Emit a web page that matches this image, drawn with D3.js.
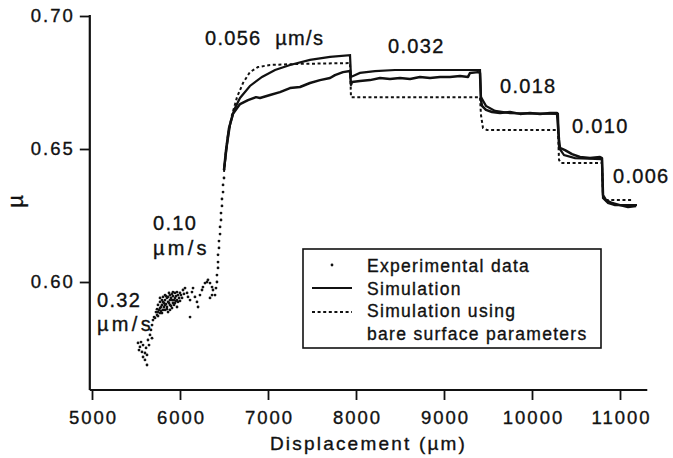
<!DOCTYPE html>
<html>
<head>
<meta charset="utf-8">
<script src="https://cdn.jsdelivr.net/npm/d3@7"></script>
<style>
	body { margin: 0; background: #fff; }
	svg { display: block; }
	text { font-family: 'Liberation Sans', Arial, Helvetica, sans-serif; fill: #111; stroke: #111; stroke-width: 0.35px; }
</style>
</head>
<body>
<svg id="chart"></svg>
<script>
'use strict'

// axis ticks
const X_TICKS = [5000, 6000, 7000, 8000, 9000, 10000, 11000];
const Y_TICKS = [0.60, 0.65, 0.70];
const X_LIMITS = [4975, 11310];
const Y_LIMITS = [0.5594, 0.70];

// simulation (fitted parameters)
const simX = [6500, 6534, 6568, 6614, 6682, 6795, 6932, 7080, 7250, 7477, 7705, 7932,
	7943, 8045, 8216, 8443, 9409,
	9420, 9477, 9580, 9750, 10295,
	10307, 10364, 10489, 10795,
	10807, 10864, 10943, 11193];
const simMu = [0.6421, 0.6515, 0.6590, 0.6647, 0.6692, 0.6737, 0.6771, 0.6797, 0.6816, 0.6835, 0.6846, 0.6853,
	0.6771, 0.6786, 0.6793, 0.6797, 0.6797,
	0.6695, 0.6662, 0.6643, 0.6635, 0.6632,
	0.6504, 0.6477, 0.6466, 0.6462,
	0.6316, 0.6297, 0.6289, 0.6289];

// simulation using bare surface parameters
const bareX = [6500, 6523, 6545, 6591, 6648, 6716, 6795, 6886, 7023, 7364, 7932,
	7943, 9409,
	9420, 9443, 9489, 10295,
	10307, 10330, 10795,
	10807, 10841, 11136];
const bareMu = [0.6414, 0.6496, 0.6553, 0.6628, 0.6695, 0.6748, 0.6789, 0.6808, 0.6816, 0.6820, 0.6823,
	0.6695, 0.6695,
	0.6628, 0.6579, 0.6571, 0.6571,
	0.6459, 0.6447, 0.6447,
	0.6320, 0.6308, 0.6308];

// experimental data, dense part (reads as a line)
const expLineX = [6500, 6523, 6557, 6602, 6682, 6773, 6864, 6909, 7023, 7136, 7250, 7364, 7477, 7591, 7705, 7761, 7852, 7932,
	7943, 7955, 8045, 8159, 8273, 8386, 8500, 8614, 8727, 8841, 8955, 9068, 9182, 9273, 9295, 9386, 9409,
	9420, 9432, 9477, 9545, 9636, 9750, 9864, 9977, 10091, 10205, 10284,
	10307, 10318, 10375, 10455, 10545, 10659, 10773, 10795,
	10807, 10841, 10909, 11000, 11091, 11182];
const expLineMu = [0.6421, 0.6496, 0.6579, 0.6632, 0.6669, 0.6684, 0.6695, 0.6692, 0.6703, 0.6714, 0.6729, 0.6733, 0.6748, 0.6759, 0.6767, 0.6778, 0.6789, 0.6793,
	0.6741, 0.6752, 0.6756, 0.6759, 0.6767, 0.6763, 0.6767, 0.6763, 0.6771, 0.6767, 0.6771, 0.6771, 0.6774, 0.6771, 0.6786, 0.6789, 0.6786,
	0.6684, 0.6662, 0.6647, 0.6639, 0.6635, 0.6639, 0.6632, 0.6635, 0.6632, 0.6635, 0.6635,
	0.6534, 0.6504, 0.6496, 0.6481, 0.6470, 0.6466, 0.6470, 0.6466,
	0.6327, 0.6308, 0.6297, 0.6289, 0.6282, 0.6286];

// experimental data, sparse part (single points)
const expDotX = [
	5523, 5557, 5580, 5534, 5568, 5602, 5580, 5625, 5602, 5625, 5636, 5659, 5670, 5682, 5693, 5545, 5614, 5648, 5682, 5705,
	5716, 5739, 5750, 5773, 5795, 5807, 5830, 5852, 5864, 5886, 5909, 5920, 5943, 5966, 5977,
	5807, 5852, 5886, 5920, 5795, 5864, 5909, 5966, 5830, 5773, 6000, 6023, 6034, 6057,
	5750, 5773, 5830, 5864, 5886, 5943, 5977, 5830, 5773, 5943, 5807, 5886, 5739, 5909,
	5727, 5761, 5784, 5818, 5841, 5875, 5898, 5932, 5955, 5989, 6011, 5841, 5875, 5920, 5966,
	5795, 5818, 5852, 5784, 5750, 5898, 5932, 5955, 6000, 6045,
	6080, 6091, 6114, 6136, 6148, 6170, 6193, 6205, 6114, 6227, 6250, 6261, 6284, 6307, 6318, 6341, 6364, 6375, 6364, 6341,
	6398, 6409, 6420, 6420, 6432, 6432, 6432, 6443, 6443, 6455, 6455, 6466, 6466, 6477, 6477, 6489, 6489, 6500];
const expDotMu = [
	0.5771, 0.5774, 0.5763, 0.5744, 0.5737, 0.5733, 0.5718, 0.5726, 0.5707, 0.5688, 0.5782, 0.5801, 0.5820, 0.5838, 0.5857, 0.5756, 0.5752, 0.5763, 0.5789, 0.5868,
	0.5865, 0.5876, 0.5887, 0.5902, 0.5914, 0.5925, 0.5932, 0.5940, 0.5944, 0.5951, 0.5955, 0.5947, 0.5940, 0.5932, 0.5925,
	0.5895, 0.5906, 0.5914, 0.5921, 0.5883, 0.5887, 0.5902, 0.5906, 0.5951, 0.5940, 0.5959, 0.5940, 0.5970, 0.5977,
	0.5914, 0.5925, 0.5914, 0.5925, 0.5932, 0.5959, 0.5951, 0.5895, 0.5883, 0.5921, 0.5944, 0.5895, 0.5898, 0.5932,
	0.5887, 0.5895, 0.5906, 0.5906, 0.5917, 0.5921, 0.5940, 0.5932, 0.5947, 0.5940, 0.5951, 0.5947, 0.5959, 0.5962, 0.5962,
	0.5932, 0.5921, 0.5898, 0.5891, 0.5872, 0.5910, 0.5914, 0.5929, 0.5929, 0.5955,
	0.5959, 0.5944, 0.5932, 0.5962, 0.5977, 0.5944, 0.5925, 0.5906, 0.5868, 0.5951, 0.5970, 0.5981, 0.5996, 0.6000, 0.6008, 0.5996, 0.5981, 0.5970, 0.5951, 0.5940,
	0.5951, 0.5977, 0.6000, 0.6026, 0.6053, 0.6075, 0.6102, 0.6128, 0.6154, 0.6180, 0.6207, 0.6233, 0.6259, 0.6286, 0.6312, 0.6338, 0.6365, 0.6391];

// sliding rate labels, anchored in data units (left edge, baseline)
const rateText = ['0.056  \u00b5m/s', '0.032', '0.018', '0.010', '0.006', '0.10', '\u00b5m/s', '0.32', '\u00b5m/s'];
const rateX = [6284, 8364, 9636, 10455, 10920, 5693, 5693, 5057, 5057];
const rateMu = [0.6891, 0.6861, 0.6711, 0.6560, 0.6372, 0.6196, 0.6102, 0.5906, 0.5816];

const LEGEND_LABELS = ['Experimental data', 'Simulation', 'Simulation using', 'bare surface parameters'];

var width = 673;
var height = 458;

var svg = d3.select('#chart')
	.attr('width', width)
	.attr('height', height);

var x = d3.scaleLinear()
	.domain([5000, 11000])
	.range([92, 620]);

var y = d3.scaleLinear()
	.domain([0.60, 0.70])
	.range([282, 16]);

var axisY0 = y(Y_LIMITS[0]);
var axisX0 = x(X_LIMITS[0]);

// x axis
var gx = svg.append('g')
	.attr('transform', 'translate(0,' + axisY0 + ')')
	.call(d3.axisBottom(x).tickValues(X_TICKS).tickSize(10).tickPadding(11).tickFormat(d3.format('d')));
gx.select('.domain').remove();
gx.selectAll('.tick line').attr('stroke', '#111').attr('stroke-width', 1.8);
gx.selectAll('.tick text')
	.attr('font-size', 18.5)
	.attr('letter-spacing', 2)
	.attr('dx', 1)
	.attr('fill', '#111');

svg.append('line')
	.attr('x1', x(X_LIMITS[0])).attr('x2', x(X_LIMITS[1]))
	.attr('y1', axisY0).attr('y2', axisY0)
	.attr('stroke', '#111').attr('stroke-width', 2);

// y axis
var gy = svg.append('g')
	.attr('transform', 'translate(' + axisX0 + ',0)')
	.call(d3.axisLeft(y).tickValues(Y_TICKS).tickSize(10).tickPadding(5).tickFormat(d3.format('.2f')));
gy.select('.domain').remove();
gy.selectAll('.tick line').attr('stroke', '#111').attr('stroke-width', 1.8);
gy.selectAll('.tick text')
	.attr('font-size', 18.5)
	.attr('letter-spacing', 2)
	.attr('fill', '#111');

svg.append('line')
	.attr('x1', axisX0).attr('x2', axisX0)
	.attr('y1', axisY0).attr('y2', y(Y_LIMITS[1]) - 1)
	.attr('stroke', '#111').attr('stroke-width', 2.2);

// axis titles
svg.append('text')
	.attr('x', x((X_LIMITS[0] + X_LIMITS[1]) / 2))
	.attr('y', axisY0 + 60)
	.attr('text-anchor', 'middle')
	.attr('font-size', 19)
	.attr('letter-spacing', 2.2)
	.text('Displacement (\u00b5m)');

svg.append('text')
	.attr('transform', 'translate(23,' + y(0.6303) + ') rotate(-90)')
	.attr('text-anchor', 'middle')
	.attr('font-size', 22)
	.text('\u00b5');

// curves
function toPoints(xs, ys) {
	return xs.map(function(d, i) { return [d, ys[i]]; });
}

var line = d3.line()
	.x(function(d) { return x(d[0]); })
	.y(function(d) { return y(d[1]); });

svg.append('path')
	.datum(toPoints(bareX, bareMu))
	.attr('d', line)
	.attr('fill', 'none')
	.attr('stroke', '#111')
	.attr('stroke-width', 2)
	.attr('stroke-dasharray', '3,2.6');

svg.append('path')
	.datum(toPoints(expLineX, expLineMu))
	.attr('d', line)
	.attr('fill', 'none')
	.attr('stroke', '#111')
	.attr('stroke-width', 2.5)
	.attr('stroke-linejoin', 'round');

svg.append('path')
	.datum(toPoints(simX, simMu))
	.attr('d', line)
	.attr('fill', 'none')
	.attr('stroke', '#111')
	.attr('stroke-width', 2.2);

svg.append('g')
	.selectAll('circle')
	.data(toPoints(expDotX, expDotMu))
	.enter()
	.append('circle')
	.attr('cx', function(d) { return x(d[0]); })
	.attr('cy', function(d) { return y(d[1]); })
	.attr('r', 1.4)
	.attr('fill', '#111');

// rate labels
svg.append('g')
	.selectAll('text')
	.data(rateText)
	.enter()
	.append('text')
	.attr('x', function(d, i) { return x(rateX[i]); })
	.attr('y', function(d, i) { return y(rateMu[i]); })
	.attr('font-size', 20)
	.attr('letter-spacing', function(d) { return d === '\u00b5m/s' ? 3.3 : 1.3; })
	.style('white-space', 'pre')
	.text(function(d) { return d; });

// legend
var legend = svg.append('g')
	.attr('transform', 'translate(303,249)');

legend.append('rect')
	.attr('width', 298)
	.attr('height', 99)
	.attr('fill', 'white')
	.attr('stroke', '#111')
	.attr('stroke-width', 1.6);

legend.append('circle')
	.attr('cx', 29).attr('cy', 16).attr('r', 1.4)
	.attr('fill', '#111');

legend.append('line')
	.attr('x1', 9).attr('x2', 49).attr('y1', 39).attr('y2', 39)
	.attr('stroke', '#111').attr('stroke-width', 2.2);

legend.append('line')
	.attr('x1', 9).attr('x2', 49).attr('y1', 63).attr('y2', 63)
	.attr('stroke', '#111').attr('stroke-width', 1.8)
	.attr('stroke-dasharray', '3,2.6');

legend.selectAll('.legText')
	.data(LEGEND_LABELS)
	.enter()
	.append('text')
	.attr('class', 'legText')
	.attr('x', 64)
	.attr('y', function(d, i) { return 23 + i * 22.7; })
	.attr('font-size', 17.5)
	.attr('letter-spacing', 1.3)
	.text(function(d) { return d; });
</script>
</body>
</html>
